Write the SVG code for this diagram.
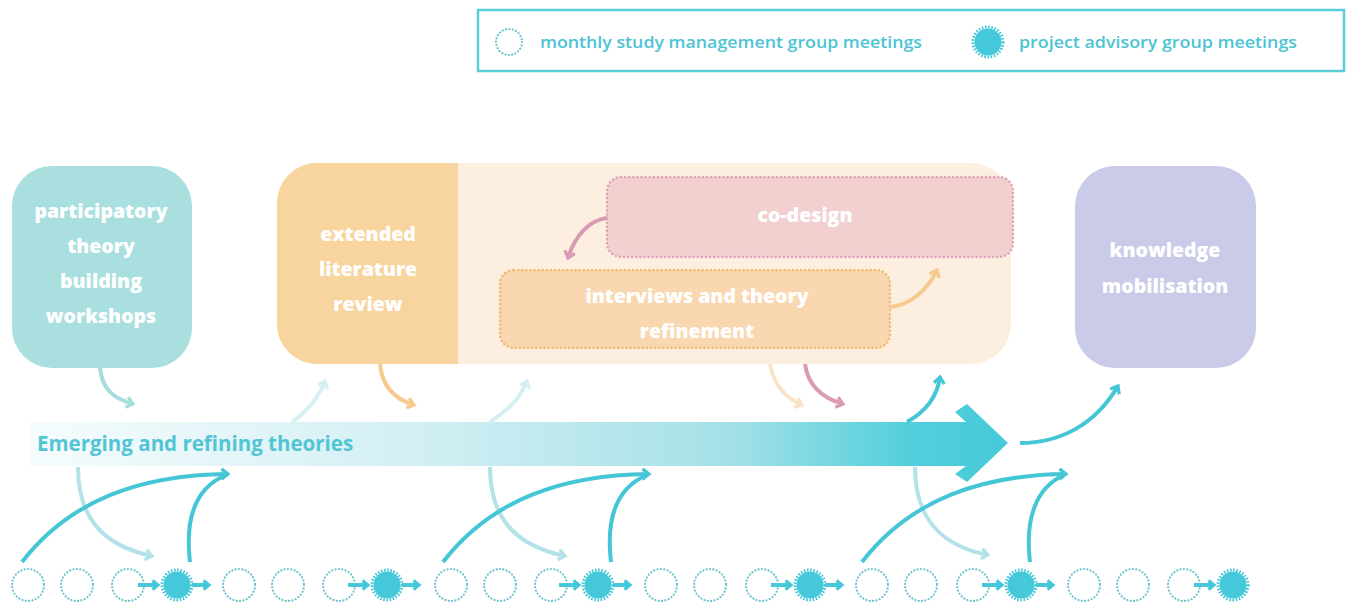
<svg xmlns="http://www.w3.org/2000/svg" width="1347" height="606" viewBox="0 0 1347 606">
<defs>
<style>
.nt{font-family:"Open Sans","Liberation Sans",sans-serif;font-weight:800;font-size:19.5px;fill:#ffffff;text-anchor:middle}
.lg{font-family:"Open Sans","Liberation Sans",sans-serif;font-weight:600;font-size:17px;fill:#4dc4d4}
.band{font-family:"Open Sans","Liberation Sans",sans-serif;font-weight:700;font-size:20.5px;fill:#52c5d5}
.dc{fill:none;stroke:#6cc4cc;stroke-width:2.2;stroke-dasharray:0.1 3.3;stroke-linecap:round}
.fc{fill:#45c8d9}
.fe{fill:none;stroke:#45c8d9;stroke-width:3;stroke-dasharray:1.6 1.6}
.c{fill:none;stroke-width:4;stroke-linecap:butt}
.tdark{stroke:#45c6d6}
.tlight{stroke:#b3e2e8}
.tfade{stroke:#d6eff3}
.tnode{stroke:#a5dcde}
.or{stroke:#f6c98c}
.orl{stroke:#fae4c8}
.pk{stroke:#d99bb3}
.sm{fill:none;stroke:#45c8d9;stroke-width:4}
</style>
<linearGradient id="bandg" gradientUnits="userSpaceOnUse" x1="30" y1="0" x2="1008" y2="0">
<stop offset="0" stop-color="#f6fcfd"/>
<stop offset="0.4" stop-color="#d2eff3"/>
<stop offset="0.72" stop-color="#a3e0e7"/>
<stop offset="0.9" stop-color="#52cfdc"/>
<stop offset="1" stop-color="#46cad8"/>
</linearGradient>
<marker id="m-tdark" viewBox="0 0 12 12" refX="8" refY="6" markerWidth="13" markerHeight="13" markerUnits="userSpaceOnUse" orient="auto"><path d="M2,1.2 L8,6 L2,10.8" fill="none" stroke="#45c6d6" stroke-width="3"/></marker>
<marker id="m-tlight" viewBox="0 0 12 12" refX="8" refY="6" markerWidth="13" markerHeight="13" markerUnits="userSpaceOnUse" orient="auto"><path d="M2,1.2 L8,6 L2,10.8" fill="none" stroke="#b3e2e8" stroke-width="3"/></marker>
<marker id="m-tfade" viewBox="0 0 12 12" refX="8" refY="6" markerWidth="13" markerHeight="13" markerUnits="userSpaceOnUse" orient="auto"><path d="M2,1.2 L8,6 L2,10.8" fill="none" stroke="#d6eff3" stroke-width="3"/></marker>
<marker id="m-tnode" viewBox="0 0 12 12" refX="8" refY="6" markerWidth="13" markerHeight="13" markerUnits="userSpaceOnUse" orient="auto"><path d="M2,1.2 L8,6 L2,10.8" fill="none" stroke="#a5dcde" stroke-width="3"/></marker>
<marker id="m-or" viewBox="0 0 12 12" refX="8" refY="6" markerWidth="13" markerHeight="13" markerUnits="userSpaceOnUse" orient="auto"><path d="M2,1.2 L8,6 L2,10.8" fill="none" stroke="#f6c98c" stroke-width="3"/></marker>
<marker id="m-orl" viewBox="0 0 12 12" refX="8" refY="6" markerWidth="13" markerHeight="13" markerUnits="userSpaceOnUse" orient="auto"><path d="M2,1.2 L8,6 L2,10.8" fill="none" stroke="#fae4c8" stroke-width="3"/></marker>
<marker id="m-pk" viewBox="0 0 12 12" refX="8" refY="6" markerWidth="13" markerHeight="13" markerUnits="userSpaceOnUse" orient="auto"><path d="M2,1.2 L8,6 L2,10.8" fill="none" stroke="#d99bb3" stroke-width="3"/></marker>
<marker id="m-sm" viewBox="0 0 12 12" refX="8" refY="6" markerWidth="12" markerHeight="12" markerUnits="userSpaceOnUse" orient="auto"><path d="M2.5,1.5 L8,6 L2.5,10.5" fill="none" stroke="#45c8d9" stroke-width="3.2"/></marker>
<g id="dot"><circle r="16" class="dc"/></g>
<g id="star"><circle r="13.5" class="fc"/><circle r="15" class="fe"/></g>
</defs>
<rect width="1347" height="606" fill="#ffffff"/>

<g id="legend">
<rect x="478" y="10" width="866" height="61" fill="#ffffff" stroke="#5ccdd8" stroke-width="2.5"/>
<circle cx="509" cy="42" r="13" class="dc"/>
<text x="540" y="48" class="lg" textLength="382" lengthAdjust="spacingAndGlyphs">monthly study management group meetings</text>
<use href="#star" x="988" y="42"/>
<text x="1019" y="48" class="lg" textLength="278" lengthAdjust="spacingAndGlyphs">project advisory group meetings</text>
</g>

<g id="node-workshops">
<rect x="12" y="166" width="180" height="202" rx="40" fill="#a9dfdf"/>
<text class="nt" x="101" y="218">participatory</text>
<text class="nt" x="101" y="253">theory</text>
<text class="nt" x="101" y="288">building</text>
<text class="nt" x="101" y="323">workshops</text>
</g>

<g id="node-container">
<rect x="277" y="163" width="734" height="201" rx="40" fill="#fdefdf"/>
</g>

<g id="node-literature">
<path d="M317,163 H458 V364 H317 A40,40 0 0 1 277,324 V203 A40,40 0 0 1 317,163 Z" fill="#f8d49f"/>
<text class="nt" x="368" y="241">extended</text>
<text class="nt" x="368" y="276">literature</text>
<text class="nt" x="368" y="311">review</text>
</g>

<g id="node-codesign">
<rect x="607" y="177" width="406" height="80" rx="14" fill="#f2d0d0" stroke="#dca3b9" stroke-width="2.5" stroke-dasharray="0.1 4" stroke-linecap="round"/>
<text class="nt" x="805" y="222">co-design</text>
</g>

<g id="node-interviews">
<rect x="500" y="270" width="390" height="78" rx="14" fill="#f9d8b1" stroke="#f4b870" stroke-width="2.5" stroke-dasharray="0.1 4" stroke-linecap="round"/>
<text class="nt" x="697" y="303">interviews and theory</text>
<text class="nt" x="697" y="338">refinement</text>
</g>

<g id="node-knowledge">
<rect x="1075" y="166" width="181" height="202" rx="40" fill="#c9cbe8"/>
<text class="nt" x="1165" y="257">knowledge</text>
<text class="nt" x="1165" y="293">mobilisation</text>
</g>

<g id="node-band">
<polygon points="30,422 966,422 955,412 967,404 1008,443 967,482 955,474 966,466 30,466" fill="url(#bandg)"/>
<text class="band" x="37" y="451">Emerging and refining theories</text>
</g>

<g id="meetings">
<use href="#dot" x="28" y="585"/><use href="#dot" x="77" y="585"/><use href="#dot" x="128" y="585"/><use href="#star" x="177" y="585"/>
<use href="#dot" x="239" y="585"/><use href="#dot" x="288" y="585"/><use href="#dot" x="339" y="585"/><use href="#star" x="387" y="585"/>
<use href="#dot" x="451" y="585"/><use href="#dot" x="500" y="585"/><use href="#dot" x="551" y="585"/><use href="#star" x="598" y="585"/>
<use href="#dot" x="661" y="585"/><use href="#dot" x="710" y="585"/><use href="#dot" x="762" y="585"/><use href="#star" x="810" y="585"/>
<use href="#dot" x="872" y="585"/><use href="#dot" x="921" y="585"/><use href="#dot" x="973" y="585"/><use href="#star" x="1021" y="585"/>
<use href="#dot" x="1084" y="585"/><use href="#dot" x="1133" y="585"/><use href="#dot" x="1184" y="585"/><use href="#star" x="1233" y="585"/>
</g>

<g id="connectors">
<path class="sm" d="M138,585 H158" marker-end="url(#m-sm)"/><path class="sm" d="M192,585 H209" marker-end="url(#m-sm)"/>
<path class="sm" d="M348,585 H368" marker-end="url(#m-sm)"/><path class="sm" d="M402,585 H419" marker-end="url(#m-sm)"/>
<path class="sm" d="M559,585 H579" marker-end="url(#m-sm)"/><path class="sm" d="M613,585 H630" marker-end="url(#m-sm)"/>
<path class="sm" d="M771,585 H791" marker-end="url(#m-sm)"/><path class="sm" d="M825,585 H842" marker-end="url(#m-sm)"/>
<path class="sm" d="M982,585 H1002" marker-end="url(#m-sm)"/><path class="sm" d="M1036,585 H1053" marker-end="url(#m-sm)"/>
<path class="sm" d="M1194,585 H1214" marker-end="url(#m-sm)"/>

<path class="c tlight" d="M78,467 C78,515 100,545 152,556" marker-end="url(#m-tlight)"/>
<path class="c tdark" d="M22,562 C70,500 140,475 228,474" marker-end="url(#m-tdark)"/>
<path class="c tdark" d="M190,562 C185,520 195,488 226,475"/>
<path class="c tlight" d="M490,467 C490,515 512,545 565,556" marker-end="url(#m-tlight)"/>
<path class="c tdark" d="M443,562 C491,500 561,475 649,474" marker-end="url(#m-tdark)"/>
<path class="c tdark" d="M611,562 C606,520 616,488 647,475"/>
<path class="c tlight" d="M915,467 C915,515 937,545 988,555" marker-end="url(#m-tlight)"/>
<path class="c tdark" d="M862,562 C910,500 980,475 1066,474" marker-end="url(#m-tdark)"/>
<path class="c tdark" d="M1030,562 C1025,520 1035,488 1064,475"/>

<path class="c tnode" d="M100,368 C102,388 112,398 133,404" marker-end="url(#m-tnode)"/>
<path class="c tfade" d="M292,422 C306,412 318,400 325,381" marker-end="url(#m-tfade)"/>
<path class="c or" d="M380,364 C382,386 394,399 414,405" marker-end="url(#m-or)"/>
<path class="c tfade" d="M490,422 C505,412 520,400 527,381" marker-end="url(#m-tfade)"/>
<path class="c orl" d="M770,364 C774,386 785,398 802,405" marker-end="url(#m-orl)"/>
<path class="c pk" d="M805,364 C808,386 822,398 843,404" marker-end="url(#m-pk)"/>
<path class="c tdark" d="M907,422 C925,412 937,398 940,377" marker-end="url(#m-tdark)"/>
<path class="c tdark" d="M1020,443 C1060,443 1095,425 1118,386" marker-end="url(#m-tdark)"/>
<path class="c pk" d="M607,218 C590,220 575,235 568,258" marker-end="url(#m-pk)"/>
<path class="c or" d="M890,307 C910,305 928,290 937,270" marker-end="url(#m-or)"/>
</g>
</svg>
